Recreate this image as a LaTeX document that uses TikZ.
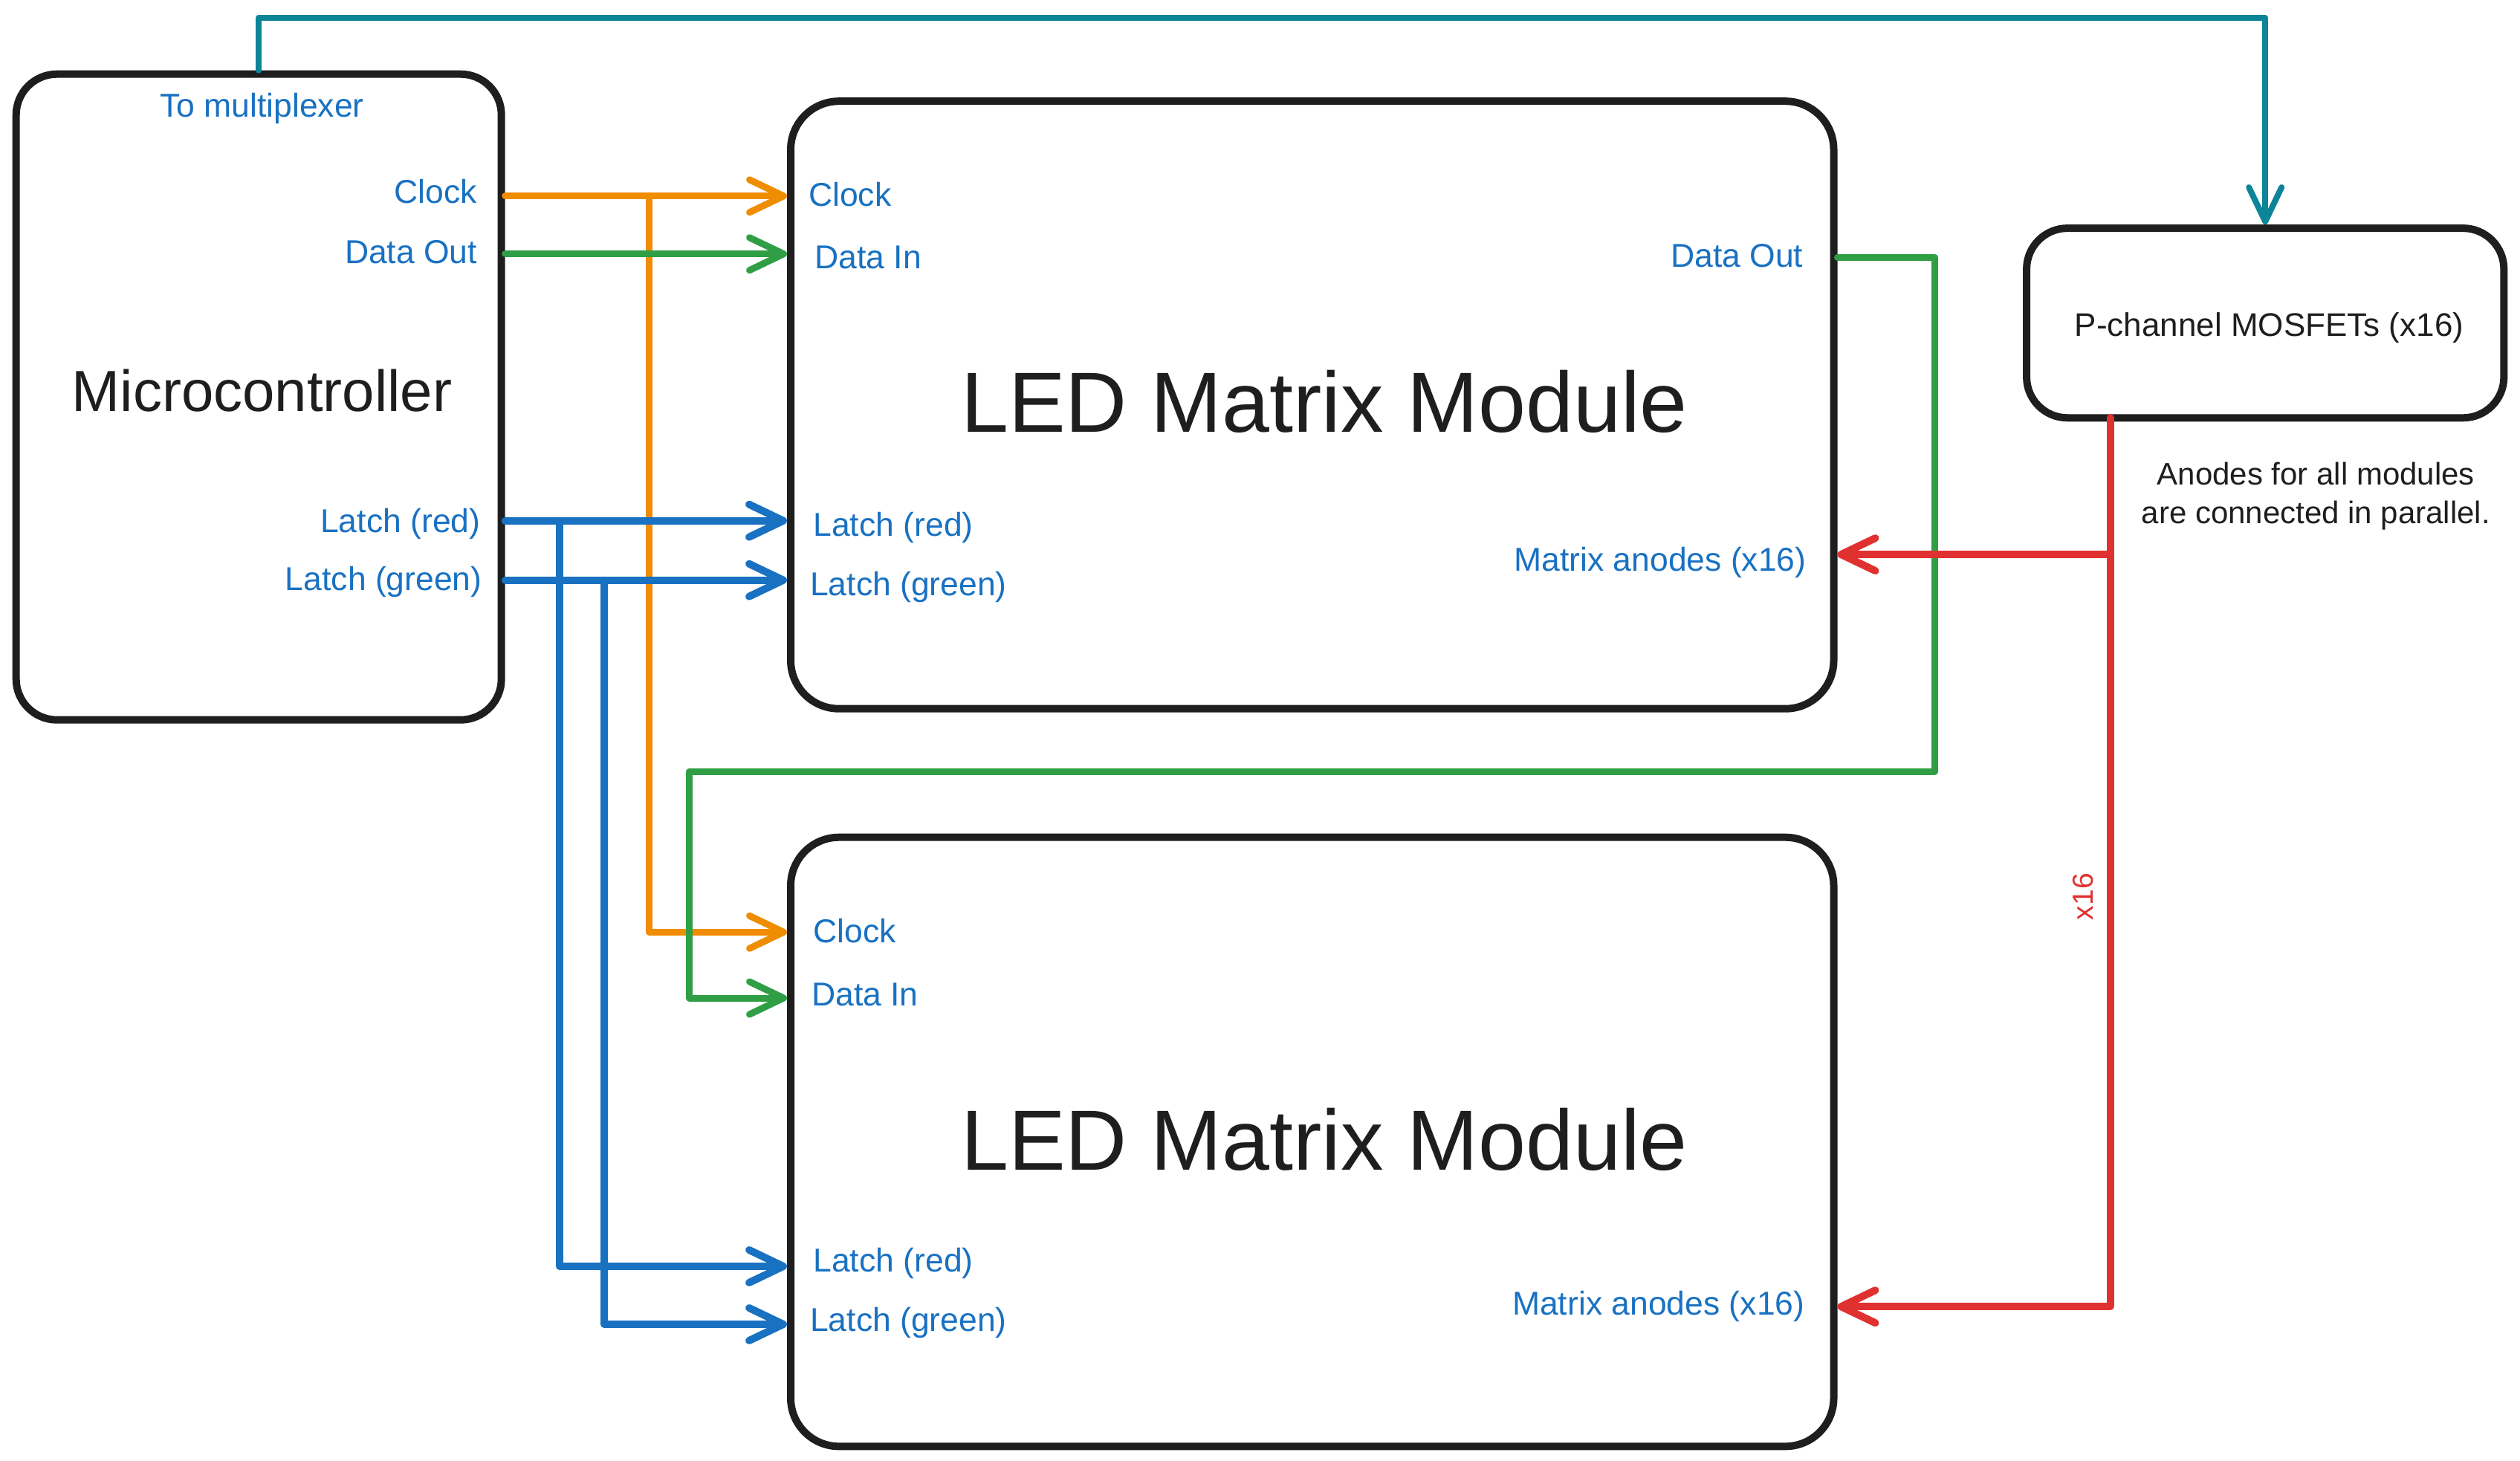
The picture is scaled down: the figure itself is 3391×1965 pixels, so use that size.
\documentclass[tikz,border=0pt]{standalone}
\usepackage{fontspec}
\setmainfont{Liberation Sans}
\usetikzlibrary{arrows.meta}
\definecolor{ink}{HTML}{1E1E1E}
\definecolor{lblue}{HTML}{1971C2}
\definecolor{corange}{HTML}{F08C00}
\definecolor{cgreen}{HTML}{2F9E44}
\definecolor{cred}{HTML}{E03131}
\definecolor{cteal}{HTML}{0C8599}
\begin{document}
\begin{tikzpicture}[x=1pt,y=-1pt,
  box/.style={draw=ink, line width=10pt, rounded corners=55pt, inner sep=0pt},
  lbl/.style={text=lblue, font=\fontsize{44.5}{50}\selectfont, inner sep=0pt},
  blk/.style={text=ink, inner sep=0pt},
  wire/.style={line width=9pt, line cap=round, line join=round},
  arr/.style={wire, -{Straight Barb[length=46pt,width=44pt,round]}}]
\useasboundingbox (0,0) rectangle (3391,1965);

% boxes
\node[box, minimum width=653pt, minimum height=869pt] (mc) at (348.2,534.2) {};
\node[box, rounded corners=65pt, minimum width=1403.5pt, minimum height=817.5pt] (m1) at (1765.75,544.95) {};
\node[box, rounded corners=65pt, minimum width=1403.5pt, minimum height=819.6pt] (m2) at (1765.75,1536.5) {};
\node[box, minimum width=642.3pt, minimum height=255.2pt] (mos) at (3048.2,434.7) {};

% titles
\node[blk, font=\fontsize{78}{90}\selectfont] (mct) at (352.5,525.5) {Microcontroller};
\node[blk, font=\fontsize{115}{130}\selectfont] (m1t) at (1782,540.7) {LED Matrix Module};
\node[blk, font=\fontsize{115}{130}\selectfont] (m2t) at (1782,1533.3) {LED Matrix Module};
\node[blk, font=\fontsize{44}{50}\selectfont] (most) at (3053.6,441) {P-channel MOSFETs (x16)};
\node[blk, font=\fontsize{42}{52}\selectfont, align=center] (note) at (3116.3,668) {Anodes for all modules\\are connected in parallel.};
\node[text=cred, inner sep=0pt, font=\fontsize{39}{45}\selectfont, rotate=90] (x16) at (2802.7,1206.7) {x16};

% microcontroller labels
\node[lbl] (mcmux) at (352.5,146) {To multiplexer};
\node[lbl, anchor=east] (mcclk) at (642.3,257.4) {Clock};
\node[lbl, anchor=east] (mcdo) at (642.3,339.5) {Data Out};
\node[lbl, anchor=east] (mclr) at (646.6,705) {Latch (red)};
\node[lbl, anchor=east] (mclg) at (648.8,783) {Latch (green)};

% module 1 labels
\node[lbl, anchor=west] (m1clk) at (1087.8,261.7) {Clock};
\node[lbl, anchor=west] (m1di) at (1096.4,346) {Data In};
\node[lbl, anchor=west] (m1lr) at (1094.3,709.5) {Latch (red)};
\node[lbl, anchor=west] (m1lg) at (1090,789.5) {Latch (green)};
\node[lbl, anchor=east] (m1do) at (2426.4,343.9) {Data Out};
\node[lbl, anchor=east] (m1an) at (2430.8,757) {Matrix anodes (x16)};

% module 2 labels
\node[lbl, anchor=west] (m2clk) at (1094.3,1252.1) {Clock};
\node[lbl, anchor=west] (m2di) at (1092.1,1338.7) {Data In};
\node[lbl, anchor=west] (m2lr) at (1094.3,1700) {Latch (red)};
\node[lbl, anchor=west] (m2lg) at (1090,1780) {Latch (green)};
\node[lbl, anchor=east] (m2an) at (2428.6,1758.4) {Matrix anodes (x16)};

% coordinates
\coordinate (oj) at (873.7,263.8);
\coordinate (o2) at (873.7,1254.3);
\coordinate (gy) at (0,341.7);
\coordinate (g1) at (2603.8,346);
\coordinate (g2) at (2603.8,1038);
\coordinate (g3) at (927.8,1038);
\coordinate (g4) at (927.8,1343);
\coordinate (b1) at (752.6,700.7);
\coordinate (b1d) at (752.6,1704);
\coordinate (b2) at (813.1,780.7);
\coordinate (b2d) at (813.1,1782);
\coordinate (r0) at (2839.5,562.3);
\coordinate (r1) at (2839.5,746.1);
\coordinate (r2) at (2839.5,1758.2);
\coordinate (t0) at (0,23.8);

% clock
\draw[arr, corange] (mc.east |- oj) -- (m1.west |- oj);
\draw[arr, corange] (oj) -- (o2) -- (m2.west |- o2);
% data
\draw[arr, cgreen] (mc.east |- gy) -- (m1.west |- gy);
\draw[arr, cgreen] (m1.east |- g1) -- (g1) -- (g2) -- (g3) -- (g4) -- (m2.west |- g4);
% latches
\draw[arr, lblue, line width=10pt] (mc.east |- b1) -- (m1.west |- b1);
\draw[arr, lblue, line width=10pt] (b1) -- (b1d) -- (m2.west |- b1d);
\draw[arr, lblue, line width=10pt] (mc.east |- b2) -- (m1.west |- b2);
\draw[arr, lblue, line width=10pt] (b2) -- (b2d) -- (m2.west |- b2d);
% anodes
\draw[arr, cred, line width=10pt] (r0) -- (r2) -- (m2.east |- r2);
\draw[arr, cred, line width=10pt] (r1) -- (m1.east |- r1);
% multiplexer
\draw[arr, cteal, line width=8pt] (mc.north) -- (mc.north |- t0) -| (mos.north);
\end{tikzpicture}
\end{document}
